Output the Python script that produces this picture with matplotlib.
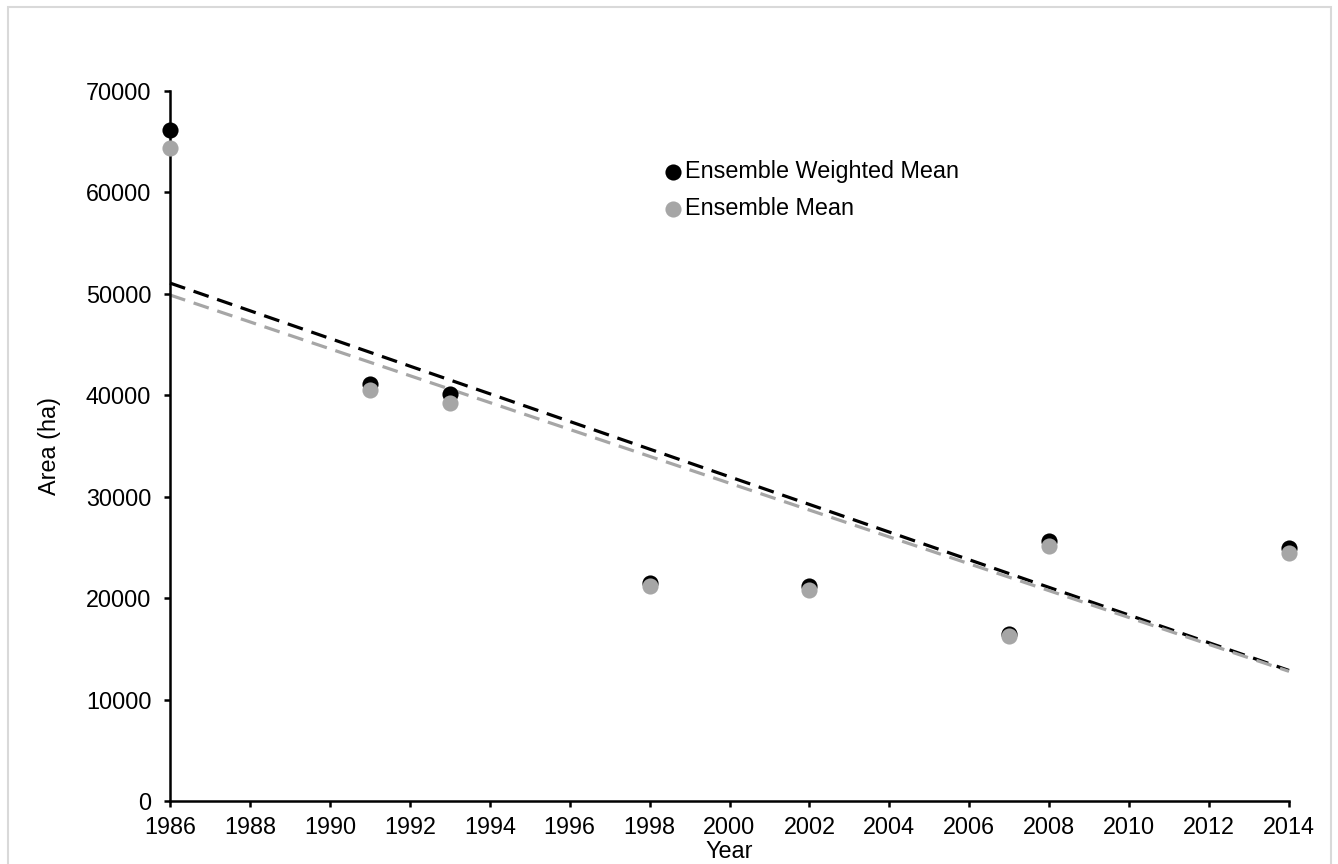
import numpy as np
import matplotlib.pyplot as plt
from matplotlib.patches import Rectangle

plt.rcParams['font.family'] = ['Liberation Sans', 'DejaVu Sans']

# data
years = [1986, 1991, 1993, 1998, 2002, 2007, 2008, 2014]
weighted_mean = [66200, 41100, 40100, 21500, 21200, 16500, 25600, 24900]
ensemble_mean = [64400, 40500, 39200, 21200, 20800, 16300, 25100, 24500]
x_ticks = list(range(1986, 2015, 2))
y_ticks = list(range(0, 70001, 10000))


def trend(x, y):
    """Linear least squares trend, evaluated over the axis span."""
    k, b = np.polyfit(x, y, 1)
    xs = np.array([x_ticks[0], x_ticks[-1]])
    return xs, k * xs + b


fig = plt.figure(figsize=(13.38, 8.64), dpi=100)
ax = fig.add_axes([170 / 1338, 63 / 864, 1119 / 1338, 710 / 864])

# light gray frame round the whole chart
fig.patches.append(Rectangle((8 / 1338, -0.05), 1323 / 1338, 1.05 - 7 / 864,
                             transform=fig.transFigure, fill=False,
                             edgecolor='#d9d9d9', linewidth=1.5))

for vals, color in [(weighted_mean, 'black'), (ensemble_mean, '#a6a6a6')]:
    xs, ys = trend(years, vals)
    ax.plot(xs, ys, color=color, linewidth=2.3, linestyle=(0, (5, 2.8)),
            zorder=2, clip_on=False)

ax.scatter(years, weighted_mean, s=135, color='black', zorder=3,
           clip_on=False, label='Ensemble Weighted Mean', linewidths=0)
ax.scatter(years, ensemble_mean, s=135, color='#a6a6a6', zorder=4,
           clip_on=False, label='Ensemble Mean', linewidths=0)

ax.set_xlim(1986, 2014)
ax.set_ylim(0, 70000)
ax.set_xticks(x_ticks)
ax.set_yticks(y_ticks)
ax.tick_params(labelsize=16.8, length=4.5, width=1.8, direction='out',
               colors='black')
ax.tick_params(axis='y', pad=9)
ax.tick_params(axis='x', pad=6)

for side in ['top', 'right']:
    ax.spines[side].set_visible(False)
for side in ['left', 'bottom']:
    ax.spines[side].set_linewidth(1.8)

ax.set_xlabel('Year', fontsize=16.8, labelpad=1)
ax.set_ylabel('Area (ha)', fontsize=16.8, labelpad=18)

ax.legend(loc='upper left', bbox_to_anchor=(650 / 1338, 1 - 160 / 864),
          bbox_transform=fig.transFigure, frameon=False, fontsize=16.8,
          handletextpad=-0.5, markerscale=1.0, labelspacing=0.6,
          borderaxespad=0, borderpad=0)

fig.savefig('out.png', dpi=100)
